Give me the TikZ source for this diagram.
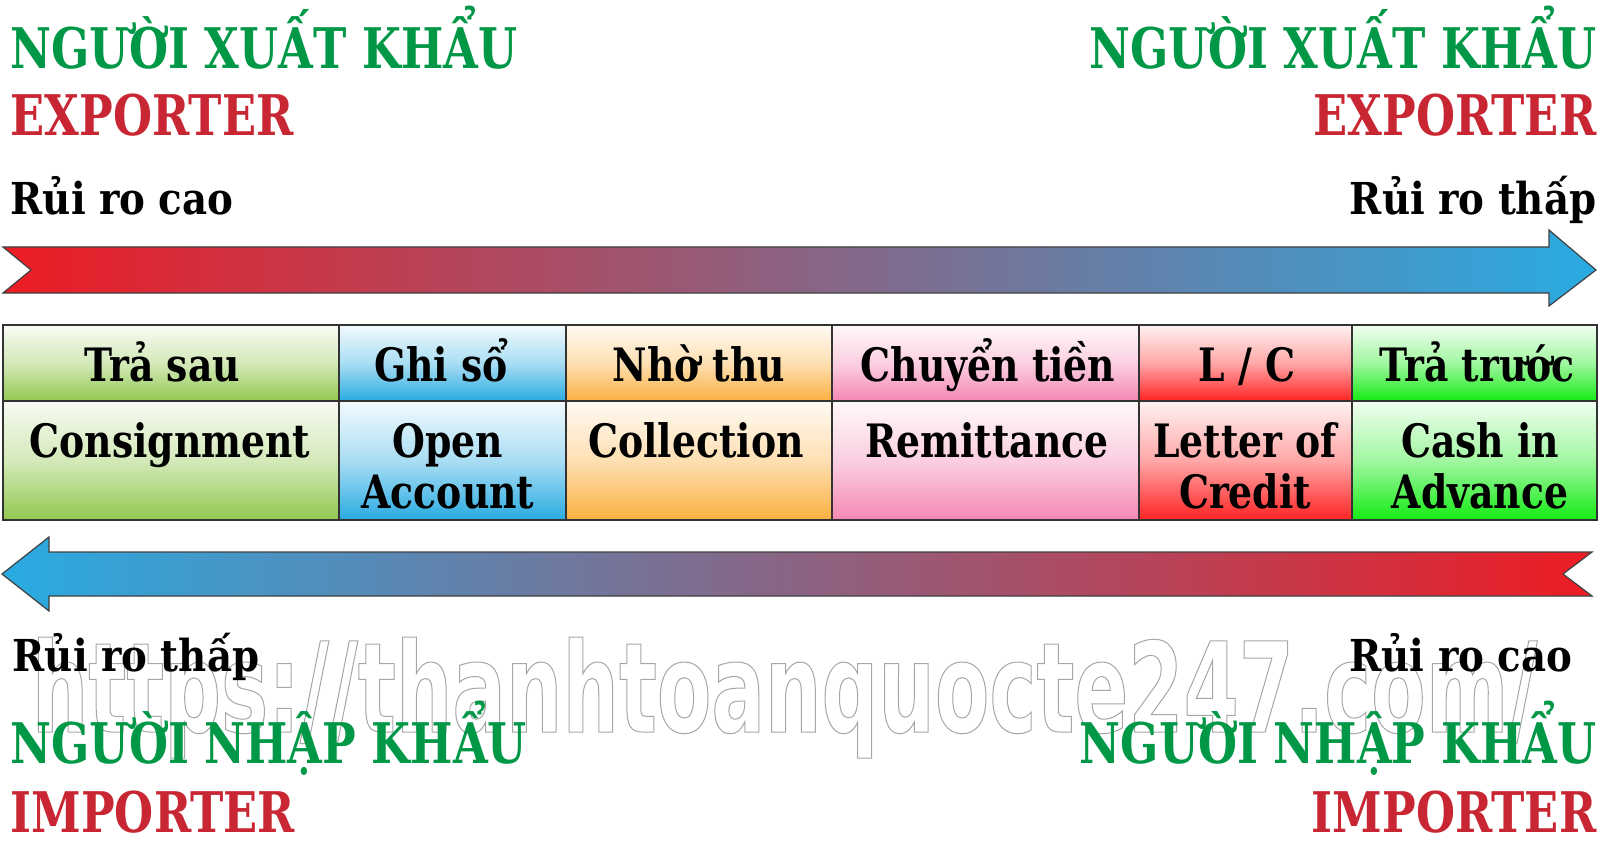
\documentclass[tikz,border=0pt]{standalone}
\usepackage{fontspec}
\setmainfont{DejaVu Serif}[FakeStretch=0.82]
\newfontfamily\titlefont{DejaVu Serif}[FakeStretch=0.80]
\newfontfamily\riskfont{DejaVu Serif}[FakeStretch=0.88]
\newfontfamily\wmfont{DejaVu Sans}[FakeStretch=0.635]

\definecolor{exgreen}{RGB}{0,152,70}
\definecolor{exred}{RGB}{200,38,50}
\definecolor{arred}{RGB}{237,28,36}
\definecolor{arblue}{RGB}{41,171,226}
\definecolor{cgreen}{RGB}{146,200,80}
\definecolor{cblue}{RGB}{41,171,226}
\definecolor{corange}{RGB}{251,176,64}
\definecolor{cpink}{RGB}{245,135,180}
\definecolor{cred}{RGB}{255,35,35}
\definecolor{clime}{RGB}{20,235,20}

\newcommand{\bigtitle}{\titlefont\bfseries\fontsize{28pt}{30pt}\selectfont}
\newcommand{\risktext}{\riskfont\bfseries\fontsize{22pt}{24pt}\selectfont}
\newcommand{\celltext}{\bfseries\fontsize{23pt}{25.5pt}\selectfont}
\newcommand{\wmtext}{\wmfont\bfseries\fontsize{62.5pt}{64pt}\selectfont}

\tikzset{every picture/.style={line width=0.75pt}}

\begin{document}
\begin{tikzpicture}[x=0.5pt,y=0.5pt,yscale=-1,xscale=1,
    cell/.style={draw=black!80, line width=0.6pt, top color=#1!6, bottom color=#1, middle color=#1!40},
    band/.style={draw=black!75, line width=0.6pt},
    ttl/.style={inner sep=0pt, font=\bigtitle},
    risk/.style={inner sep=0pt, font=\risktext},
    lbl/.style={inner sep=0pt, font=\celltext, align=center}]
        \useasboundingbox (0,0) rectangle (1600,845);

        % Watermark
        \draw (31,732) node (wm) [anchor=base west][inner sep=0pt][text=black!35] {\wmtext\special{pdf:literal direct 1 Tr 0.5 w}https://thanhtoanquocte247.com/\special{pdf:literal direct 0 Tr}};

        %Shape: Arrow right (red to blue)
        \draw [band, left color=arred, right color=arblue] (3,247) -- (1549,247) -- (1549,230) -- (1596,270) -- (1549,306) -- (1549,293) -- (3,293) -- (31,270) -- cycle ;
        %Shape: Arrow left (blue to red)
        \draw [band, left color=arblue, right color=arred] (2,574) -- (49,537) -- (49,552) -- (1592,552) -- (1563,574) -- (1592,596) -- (49,596) -- (49,611) -- cycle ;

        %Shape: Rectangle top row
        \draw [cell=cgreen] (3,325) rectangle (339,401) ;
        \draw [cell=cblue] (339,325) rectangle (566,401) ;
        \draw [cell=corange] (566,325) rectangle (832,401) ;
        \draw [cell=cpink] (832,325) rectangle (1139,401) ;
        \draw [cell=cred] (1139,325) rectangle (1352,401) ;
        \draw [cell=clime] (1352,325) rectangle (1597,401) ;
        %Shape: Rectangle bottom row
        \draw [cell=cgreen] (3,401) rectangle (339,520) ;
        \draw [cell=cblue] (339,401) rectangle (566,520) ;
        \draw [cell=corange] (566,401) rectangle (832,520) ;
        \draw [cell=cpink] (832,401) rectangle (1139,520) ;
        \draw [cell=cred] (1139,401) rectangle (1352,520) ;
        \draw [cell=clime] (1352,401) rectangle (1597,520) ;

        % Text Node
        \draw (10,69) node (expVN) [anchor=base west][ttl][text=exgreen] {NGƯỜI XUẤT KHẨU};
        % Text Node
        \draw (10,136) node (expEN) [anchor=base west][ttl][text=exred] {EXPORTER};
        % Text Node
        \draw (1597,69) node (expVNr) [anchor=base east][ttl][text=exgreen] {NGƯỜI XUẤT KHẨU};
        % Text Node
        \draw (1597,136) node (expENr) [anchor=base east][ttl][text=exred] {EXPORTER};
        % Text Node
        \draw (10,215) node (riskHi) [anchor=base west][risk] {Rủi ro cao};
        % Text Node
        \draw (1597,215) node (riskLo) [anchor=base east][risk] {Rủi ro thấp};

        % Text Node
        \draw (162,381) node (vnA) [anchor=base][lbl] {Trả sau};
        % Text Node
        \draw (441,381) node (vnB) [anchor=base][lbl] {Ghi sổ};
        % Text Node
        \draw (699,381) node (vnC) [anchor=base][lbl] {Nhờ thu};
        % Text Node
        \draw (988,381) node (vnD) [anchor=base][lbl] {Chuyển tiền};
        % Text Node
        \draw (1247,381) node (vnE) [anchor=base][lbl] {L / C};
        % Text Node
        \draw (1477,381) node (vnF) [anchor=base][lbl] {Trả trước};

        % Text Node
        \draw (170,420) node (enA) [anchor=north][lbl] {\rule{0pt}{0.8em}Consignment};
        % Text Node
        \draw (448,420) node (enB) [anchor=north][lbl] {\rule{0pt}{0.8em}Open\\Account};
        % Text Node
        \draw (696,420) node (enC) [anchor=north][lbl] {\rule{0pt}{0.8em}Collection};
        % Text Node
        \draw (987,420) node (enD) [anchor=north][lbl] {\rule{0pt}{0.8em}Remittance};
        % Text Node
        \draw (1245,420) node (enE) [anchor=north][lbl] {\rule{0pt}{0.8em}Letter of\\Credit};
        % Text Node
        \draw (1480,420) node (enF) [anchor=north][lbl] {\rule{0pt}{0.8em}Cash in\\Advance};

        % Text Node
        \draw (12,671) node (impLo) [anchor=base west][risk] {Rủi ro thấp};
        % Text Node
        \draw (1573,671) node (impHi) [anchor=base east][risk] {Rủi ro cao};
        % Text Node
        \draw (10,763) node (impVN) [anchor=base west][ttl][text=exgreen] {NGƯỜI NHẬP KHẨU};
        % Text Node
        \draw (10,832) node (impEN) [anchor=base west][ttl][text=exred] {IMPORTER};
        % Text Node
        \draw (1597,763) node (impVNr) [anchor=base east][ttl][text=exgreen] {NGƯỜI NHẬP KHẨU};
        % Text Node
        \draw (1597,832) node (impENr) [anchor=base east][ttl][text=exred] {IMPORTER};

    \end{tikzpicture}
\end{document}
